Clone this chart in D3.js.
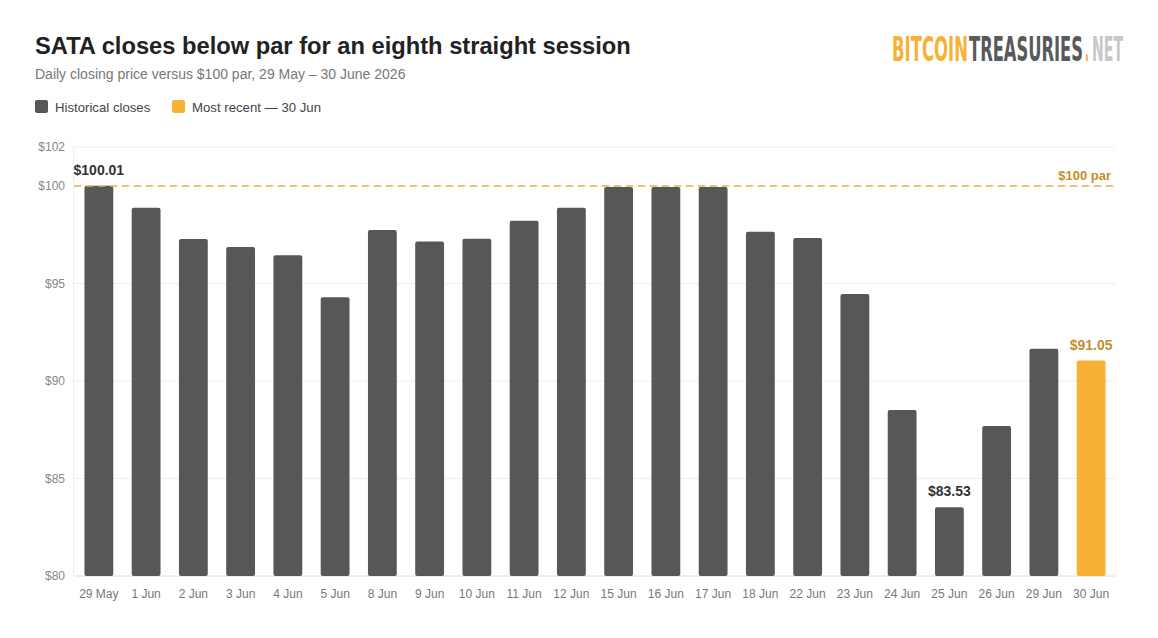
<!DOCTYPE html>
<html>
<head>
<meta charset="utf-8">
<script src="https://cdn.jsdelivr.net/npm/d3@7"></script>
<style>
  body { margin: 0; background: #fff; }
  svg { display: block; font-family: "Liberation Sans", Arial, sans-serif; }
</style>
</head>
<body>
<svg id="chart"></svg>
<script>
// closing prices
let dates = ["29 May", "1 Jun", "2 Jun", "3 Jun", "4 Jun", "5 Jun", "8 Jun", "9 Jun", "10 Jun", "11 Jun",
    "12 Jun", "15 Jun", "16 Jun", "17 Jun", "18 Jun", "22 Jun", "23 Jun", "24 Jun", "25 Jun", "26 Jun",
    "29 Jun", "30 Jun"]
let closes = [100.01, 98.89, 97.28, 96.87, 96.45, 94.29, 97.74, 97.15, 97.30, 98.22,
    98.89, 99.95, 99.95, 99.95, 97.66, 97.33, 94.46, 88.51, 83.53, 87.69,
    91.66, 91.05]
let yTicks = [80, 85, 90, 95, 100, 102]
let parValue = 100
let labelled = ["29 May", "25 Jun", "30 Jun"]

let width = 1158
let height = 638
let margin = { top: 147, right: 43, bottom: 62, left: 74 }

let grey = "#555758"
let orange = "#F7B135"
let darkOrange = "#C68D2E"

let svg = d3.select("#chart")
    .attr("width", width)
    .attr("height", height)

let x = d3.scaleBand()
    .domain(dates)
    .range([margin.left + 1, width - margin.right])
    .paddingInner(0.39)
    .paddingOuter(0.2)

let y = d3.scaleLinear()
    .domain([80, 102])
    .range([height - margin.bottom, margin.top])

// title block
svg.append("text")
    .attr("x", 35).attr("y", 54)
    .attr("font-size", 23.7).attr("font-weight", "bold").attr("fill", "#222")
    .text("SATA closes below par for an eighth straight session")

svg.append("text")
    .attr("x", 35).attr("y", 79)
    .attr("font-size", 14).attr("fill", "#777")
    .text("Daily closing price versus $100 par, 29 May \u2013 30 June 2026")

// logo, one piece per colour, stretched tall like the condensed wordmark
let logoParts = [
    { text: "BITCOIN", color: orange, x: 892, w: 76 },
    { text: "TREASURIES", color: "#58595b", x: 969, w: 114 },
    { text: ".", color: orange, x: 1085, w: 4 },
    { text: "NET", color: "#c8c8c8", x: 1092, w: 31 }
]
svg.selectAll(".logo")
    .data(logoParts)
    .enter()
    .append("text")
    .attr("class", "logo")
    .attr("transform", (d) => `translate(${d.x}, 61) scale(1, 1.84)`)
    .attr("font-family", "'Liberation Sans Narrow', 'DejaVu Sans Condensed', sans-serif")
    .attr("font-size", 18)
    .attr("font-weight", "bold")
    .attr("textLength", (d) => d.w)
    .attr("lengthAdjust", "spacingAndGlyphs")
    .attr("fill", (d) => d.color)
    .text((d) => d.text)

// legend
let legendData = [
    { label: "Historical closes", color: grey, x: 35 },
    { label: "Most recent \u2014 30 Jun", color: orange, x: 172 }
]
let legend = svg.selectAll(".legend")
    .data(legendData)
    .enter()
    .append("g")
    .attr("class", "legend")
    .attr("transform", (d) => `translate(${d.x}, 100)`)
legend.append("rect")
    .attr("width", 13).attr("height", 13).attr("rx", 2)
    .attr("fill", (d) => d.color)
legend.append("text")
    .attr("x", 20).attr("y", 12)
    .attr("font-size", 13.2).attr("fill", "#444")
    .text((d) => d.label)

// grid + y axis
svg.append("g")
    .selectAll("line")
    .data(yTicks)
    .enter()
    .append("line")
    .attr("x1", margin.left).attr("x2", width - margin.right)
    .attr("y1", (d) => y(d)).attr("y2", (d) => y(d))
    .attr("stroke", (d) => d === 80 ? "#dcdcdc" : "#eeeeee")
    .attr("stroke-width", 1)

svg.append("line")
    .attr("x1", margin.left - 0.5).attr("x2", margin.left - 0.5)
    .attr("y1", margin.top).attr("y2", height - margin.bottom)
    .attr("stroke", "#eeeeee")

let yAxis = svg.append("g")
    .attr("transform", `translate(${margin.left}, 0)`)
    .call(d3.axisLeft(y).tickValues(yTicks).tickFormat((d) => "$" + d).tickSize(0).tickPadding(9))
yAxis.select(".domain").remove()
yAxis.selectAll("text").attr("font-size", 12).attr("fill", "#888").attr("font-family", "Liberation Sans, Arial, sans-serif")

// x axis
let xAxis = svg.append("g")
    .attr("transform", `translate(0, ${height - margin.bottom})`)
    .call(d3.axisBottom(x).tickSize(0).tickPadding(13))
xAxis.select(".domain").remove()
xAxis.selectAll("text").attr("font-size", 12).attr("fill", "#777").attr("font-family", "Liberation Sans, Arial, sans-serif")

// bars
let last = dates[dates.length - 1]
svg.append("g")
    .selectAll("rect")
    .data(dates)
    .enter()
    .append("rect")
    .attr("x", (d) => x(d))
    .attr("y", (d, i) => y(closes[i]))
    .attr("width", x.bandwidth())
    .attr("height", (d, i) => y(80) - y(closes[i]))
    .attr("rx", 2)
    .attr("fill", (d) => d === last ? orange : grey)

// par line
svg.append("line")
    .attr("x1", margin.left).attr("x2", width - margin.right)
    .attr("y1", y(parValue)).attr("y2", y(parValue))
    .attr("stroke", "#F0B13E").attr("stroke-width", 1.5)
    .attr("stroke-dasharray", "7,5")

svg.append("text")
    .attr("x", width - 47).attr("y", y(parValue) - 6)
    .attr("text-anchor", "end")
    .attr("font-size", 13).attr("font-weight", "bold").attr("fill", darkOrange)
    .text("$100 par")

// value labels
svg.append("g")
    .selectAll("text")
    .data(labelled)
    .enter()
    .append("text")
    .attr("x", (d) => x(d) + x.bandwidth() / 2)
    .attr("y", (d) => y(closes[dates.indexOf(d)]) - 11)
    .attr("text-anchor", "middle")
    .attr("font-size", 14).attr("font-weight", "bold")
    .attr("fill", (d) => d === last ? darkOrange : "#333")
    .text((d) => "$" + closes[dates.indexOf(d)].toFixed(2))
</script>
</body>
</html>
